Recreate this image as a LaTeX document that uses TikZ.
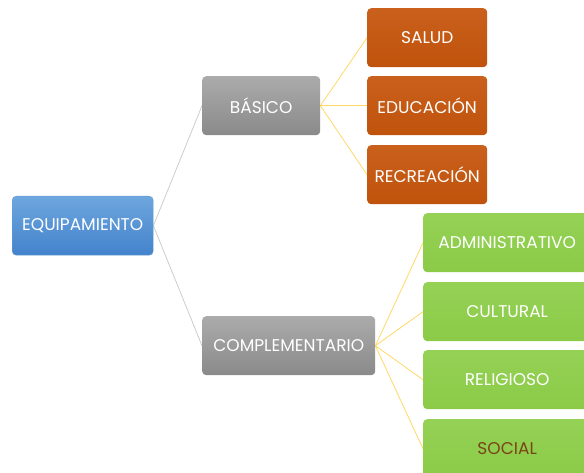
\documentclass[tikz,border=0pt]{standalone}
\usepackage{fontspec}
\setmainfont{Poppins}
\usetikzlibrary{backgrounds,shadings}
\definecolor{bluetop}{HTML}{6EA6DE}
\definecolor{bluebot}{HTML}{4383CC}
\definecolor{graytop}{HTML}{ABABAB}
\definecolor{graybot}{HTML}{8A8A8A}
\definecolor{orangetop}{HTML}{C9601C}
\definecolor{orangebot}{HTML}{C0530C}
\definecolor{greentop}{HTML}{95D155}
\definecolor{greenbot}{HTML}{8BCB48}
\definecolor{graylink}{HTML}{C8C8C8}
\definecolor{yellowlink}{HTML}{FFD966}
\definecolor{brownt}{HTML}{7A4416}
\tikzset{
  box/.style={rounded corners=4pt, minimum height=59pt, inner sep=0pt, font=\fontsize{17}{19}\selectfont, text=white, anchor=north west},
  bluebox/.style={box, top color=bluetop, bottom color=bluebot, draw=bluebot!80!white, line width=0.4pt},
  graybox/.style={box, top color=graytop, bottom color=graybot},
  orangebox/.style={box, top color=orangetop, bottom color=orangebot, minimum width=120pt},
  greenbox/.style={box, top color=greentop, bottom color=greenbot, minimum width=168pt},
  glink/.style={graylink, line width=0.7pt},
  ylink/.style={yellowlink, line width=0.8pt},
}
\begin{document}
\begin{tikzpicture}[x=1pt,y=-1pt]
\useasboundingbox (0,0) rectangle (584,473);
\clip (0,0) rectangle (584,473);
\node[bluebox, minimum width=141pt] (eq) at (12,196) {EQUIPAMIENTO};
\node[graybox, minimum width=118pt] (bas) at (202,76) {BÁSICO};
\node[graybox, minimum width=173pt] (com) at (202,316) {COMPLEMENTARIO};
\node[orangebox] (sal) at (367,8) {SALUD};
\node[orangebox] (edu) at (367,76) {EDUCACIÓN};
\node[orangebox] (rec) at (367,145) {RECREACIÓN};
\node[greenbox] (adm) at (423,213) {ADMINISTRATIVO};
\node[greenbox] (cul) at (423,282) {CULTURAL};
\node[greenbox] (rel) at (423,350) {RELIGIOSO};
\node[greenbox, text=brownt] (soc) at (423,419) {SOCIAL};
\begin{pgfonlayer}{background}
\fill[white] (0,0) rectangle (584,473);
\draw[glink] (eq.east) -- (bas.west);
\draw[glink] (eq.east) -- (com.west);
\draw[ylink] (bas.east) -- (sal.west);
\draw[ylink] (bas.east) -- (edu.west);
\draw[ylink] (bas.east) -- (rec.west);
\draw[ylink] (com.east) -- (adm.west);
\draw[ylink] (com.east) -- (cul.west);
\draw[ylink] (com.east) -- (rel.west);
\draw[ylink] (com.east) -- (soc.west);
\end{pgfonlayer}
\end{tikzpicture}
\end{document}
